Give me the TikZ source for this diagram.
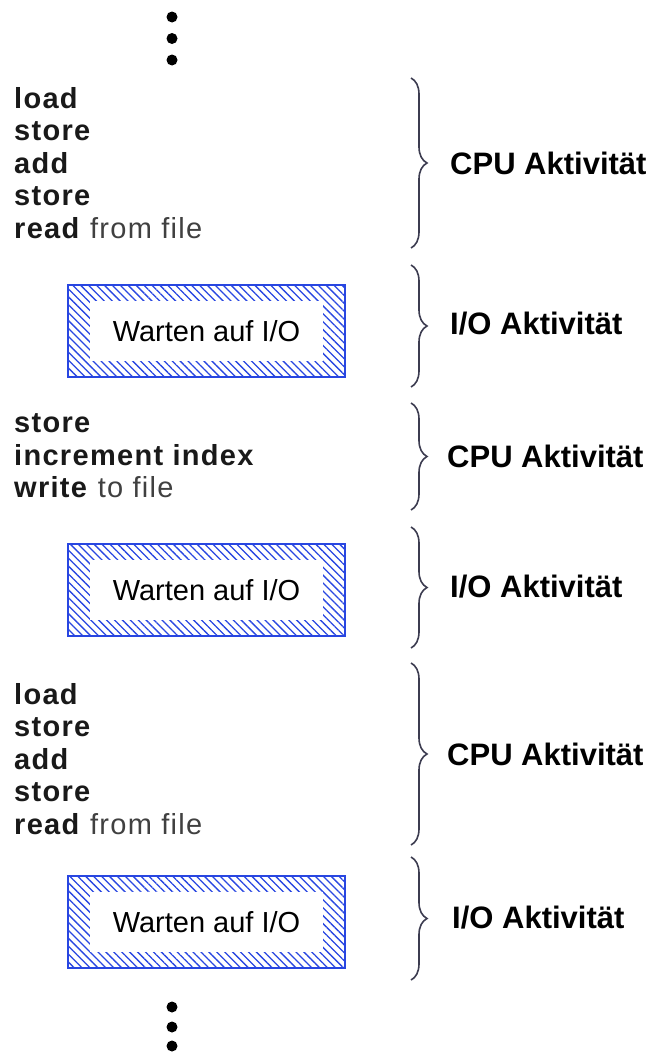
\documentclass[tikz,border=0pt]{standalone}
\usepackage{fontspec}
\setmainfont{Liberation Sans}
\newfontfamily\codefont[LetterSpace=4.5]{Liberation Sans}
\usepackage{tikz}
\usetikzlibrary{positioning, decorations.pathreplacing, patterns.meta}
\definecolor{hatchblue}{RGB}{40,70,225}
\definecolor{bracegray}{RGB}{60,60,80}

\begin{document}
\begin{tikzpicture}
  [
    x=1pt, y=-1pt,
    Code/.style={anchor=west, align=left, inner sep=0pt, text=black!90, font=\codefont\fontsize{29}{32.5}\selectfont},
    Wait/.style={draw=hatchblue, line width=1.3pt, pattern={Lines[angle=-45, distance=5.6pt, line width=1.3pt]}, pattern color=hatchblue, minimum width=277pt, minimum height=92pt, inner sep=0pt},
    Inner/.style={fill=white, minimum width=233pt, minimum height=60pt, inner sep=0pt, font=\fontsize{29}{30}\selectfont},
    Act/.style={decorate, decoration={brace, amplitude=16pt}, draw=bracegray, line width=1.6pt},
    ActLabel/.style={anchor=west, inner sep=0pt, font=\bfseries\fontsize{31}{33}\selectfont},
    Dot/.style={circle, fill=black, inner sep=0pt, minimum size=11pt}
  ]
  \useasboundingbox (0,0) rectangle (657,1052);
  % Nodes
  \node[Dot] (d1) at (172,17) {};
  \node[Dot] (d2) at (172,38.5) {};
  \node[Dot] (d3) at (172,60) {};
  \node[Code] (cpu1) at (14,163) {\textbf{load}\\\textbf{store}\\\textbf{add}\\\textbf{store}\\\textbf{read} \textcolor{black!75}{from file}};
  \node[Wait] (io1) at (206.5,331) {};
  \node[Inner] (w1) at (io1) {Warten auf I/O};
  \node[Code] (cpu2) at (14,456) {\textbf{store}\\\textbf{increment index}\\\textbf{write} \textcolor{black!75}{to file}};
  \node[Wait] (io2) at (206.5,590) {};
  \node[Inner] (w2) at (io2) {Warten auf I/O};
  \node[Code] (cpu3) at (14,759) {\textbf{load}\\\textbf{store}\\\textbf{add}\\\textbf{store}\\\textbf{read} \textcolor{black!75}{from file}};
  \node[Wait] (io3) at (206.5,922) {};
  \node[Inner] (w3) at (io3) {Warten auf I/O};
  \node[Dot] (d4) at (172,1007) {};
  \node[Dot] (d5) at (172,1027) {};
  \node[Dot] (d6) at (172,1046) {};
  % Braces
  \coordinate (b1t) at (411,78);  \coordinate (b1b) at (411,248);
  \coordinate (b2t) at (411,265); \coordinate (b2b) at (411,387);
  \coordinate (b3t) at (411,403); \coordinate (b3b) at (411,510);
  \coordinate (b4t) at (411,527); \coordinate (b4b) at (411,648);
  \coordinate (b5t) at (411,663); \coordinate (b5b) at (411,845);
  \coordinate (b6t) at (411,857); \coordinate (b6b) at (411,980);
  \draw[Act] (b1t) -- (b1b);
  \draw[Act] (b2t) -- (b2b);
  \draw[Act] (b3t) -- (b3b);
  \draw[Act] (b4t) -- (b4b);
  \draw[Act] (b5t) -- (b5b);
  \draw[Act] (b6t) -- (b6b);
  \node[ActLabel] (a1) at (450,163) {CPU Aktivität};
  \node[ActLabel] (a2) at (450,324) {I/O Aktivität};
  \node[ActLabel] (a3) at (447,456) {CPU Aktivität};
  \node[ActLabel] (a4) at (450,587) {I/O Aktivität};
  \node[ActLabel] (a5) at (447,754) {CPU Aktivität};
  \node[ActLabel] (a6) at (452,918) {I/O Aktivität};
\end{tikzpicture}
\end{document}
